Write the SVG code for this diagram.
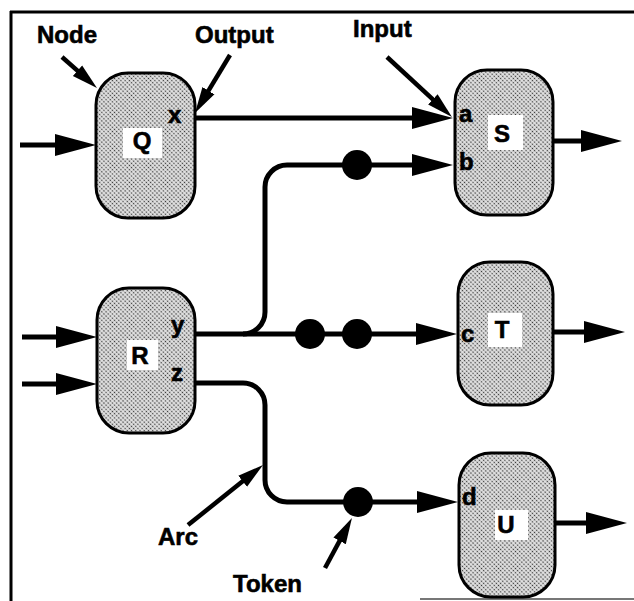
<svg xmlns="http://www.w3.org/2000/svg" width="634" height="601" viewBox="0 0 634 601">
<style>
.node{stroke:#000;stroke-width:3;fill:url(#dots)}
.lbox{fill:#fff;stroke:none}
.t{font-family:"Liberation Sans",Arial,sans-serif;font-weight:bold;font-size:24px;fill:#000;stroke:#000;stroke-width:0.6}
.conn{fill:none;stroke:#000;stroke-width:5}
.ann{fill:none;stroke:#000;stroke-width:4.5}
.tok{fill:#000}
</style>
<defs>
<pattern id="dots" width="3" height="3" patternUnits="userSpaceOnUse" patternTransform="rotate(45)">
<rect width="3" height="3" fill="#e0e0e0"/>
<circle cx="1.5" cy="1.5" r="0.8" fill="#333"/>
</pattern>
<marker id="big" markerUnits="userSpaceOnUse" markerWidth="44" markerHeight="24" refX="4" refY="12" orient="auto">
<path d="M0,1 L41,12 L0,23 z" fill="#000"/>
</marker>
<marker id="small" markerUnits="userSpaceOnUse" markerWidth="28" markerHeight="16" refX="4" refY="8" orient="auto">
<path d="M0,1 L26,8 L0,15 z" fill="#000"/>
</marker>
</defs>
<rect width="634" height="601" fill="#fff"/>
<g id="frame" fill="none" stroke="#000">
<path d="M11,11 V601" stroke-width="3"/>
<path d="M10,12 H634" stroke-width="3"/>
<path d="M420,599 H634" stroke-width="2" stroke="#777"/>
</g>
<g id="connectors">
<path class="conn" d="M20,145 H59" marker-end="url(#big)"/>
<path class="conn" d="M22,337 H60" marker-end="url(#big)"/>
<path class="conn" d="M22,384 H60" marker-end="url(#big)"/>
<path class="conn" d="M195,118 H416" marker-end="url(#big)"/>
<path class="conn" d="M553,141 H585" marker-end="url(#big)"/>
<path class="conn" d="M553,332 H588" marker-end="url(#big)"/>
<path class="conn" d="M555,523 H590" marker-end="url(#big)"/>
<path class="conn" d="M195,334 H420" marker-end="url(#big)"/>
<path class="conn" d="M243,334 A22,22 0 0 0 265,312 V187 A22,22 0 0 1 287,165 H416" marker-end="url(#big)"/>
<path class="conn" d="M195,383 H243 A22,22 0 0 1 265,405 V480 A22,22 0 0 0 287,502 H421" marker-end="url(#big)"/>
<circle class="tok" cx="357" cy="165" r="15"/>
<circle class="tok" cx="310" cy="334" r="15"/>
<circle class="tok" cx="357" cy="334" r="15"/>
<circle class="tok" cx="358" cy="502" r="15"/>
</g>
<g id="node-Q">
<rect class="node" x="96" y="73" width="99" height="145" rx="32"/>
<rect class="lbox" x="123" y="128" width="39" height="30"/>
<text class="t" x="142" y="149" text-anchor="middle">Q</text>
<text class="t" x="168" y="123">x</text>
</g>
<g id="node-R">
<rect class="node" x="97" y="288" width="98" height="145" rx="32"/>
<rect class="lbox" x="127" y="340" width="31" height="30"/>
<text class="t" x="140" y="364" text-anchor="middle">R</text>
<text class="t" x="171" y="333">y</text>
<text class="t" x="171" y="381">z</text>
</g>
<g id="node-S">
<rect class="node" x="455" y="70" width="98" height="145" rx="32"/>
<rect class="lbox" x="488" y="115" width="35" height="35"/>
<text class="t" x="502" y="142" text-anchor="middle">S</text>
<text class="t" x="459" y="122">a</text>
<text class="t" x="459" y="170">b</text>
</g>
<g id="node-T">
<rect class="node" x="458" y="262" width="95" height="143" rx="32"/>
<rect class="lbox" x="488" y="313" width="34" height="34"/>
<text class="t" x="502" y="338" text-anchor="middle">T</text>
<text class="t" x="461" y="342">c</text>
</g>
<g id="node-U">
<rect class="node" x="459" y="453" width="96" height="144" rx="32"/>
<rect class="lbox" x="495" y="510" width="33" height="30"/>
<text class="t" x="506" y="533" text-anchor="middle">U</text>
<text class="t" x="462" y="505">d</text>
</g>
<g id="annotations">
<path class="ann" d="M62,57 L80.5,73.4" marker-end="url(#small)"/>
<path class="ann" d="M230,55 L206.4,94.1" marker-end="url(#small)"/>
<path class="ann" d="M387,57 L435.8,102.1" marker-end="url(#small)"/>
<path class="ann" d="M188,525 L245.8,478.8" marker-end="url(#small)"/>
<path class="ann" d="M325,568 L341.5,537.4" marker-end="url(#small)"/>
<text class="t" x="37" y="43">Node</text>
<text class="t" x="195" y="43">Output</text>
<text class="t" x="353" y="37">Input</text>
<text class="t" x="158" y="545">Arc</text>
<text class="t" x="233" y="592">Token</text>
</g>
</svg>
